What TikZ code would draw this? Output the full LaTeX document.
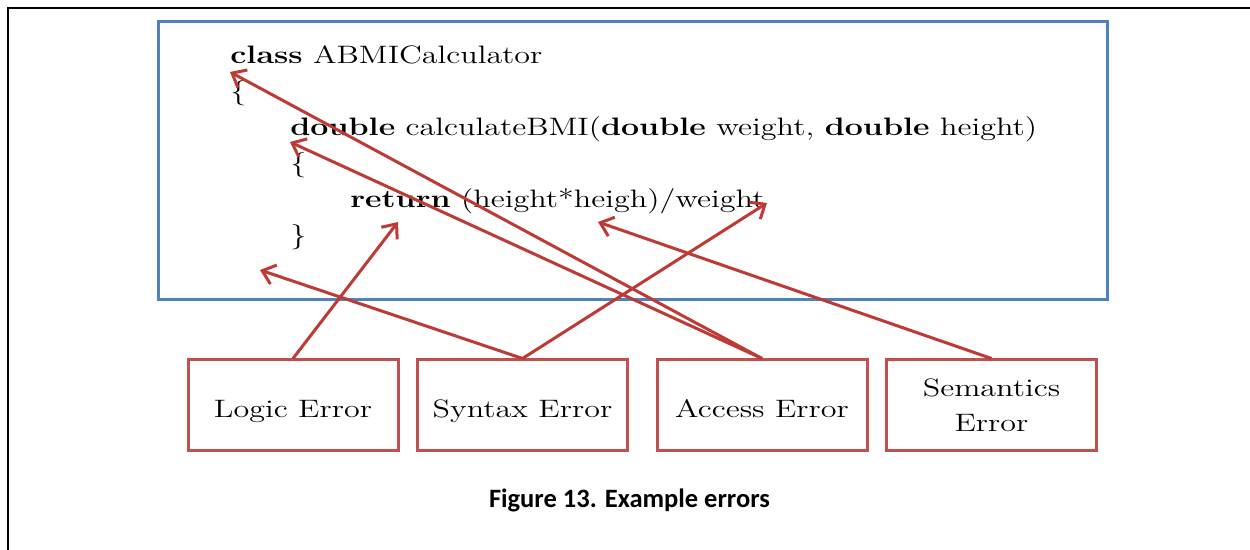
\documentclass[tikz,border=0pt]{standalone}
\usepackage{fontspec}
\usepackage{graphicx}
\newfontfamily\capfont{Carlito}
\usetikzlibrary{arrows.meta}
\definecolor{boxblue}{HTML}{4F81BD}
\definecolor{boxred}{HTML}{C0504D}
\definecolor{arrred}{HTML}{BE3A35}
\newcommand\sx[1]{\scalebox{1.275}[1]{#1}}
\begin{document}
\begin{tikzpicture}[x=0.5pt,y=-0.5pt,
  code/.style={anchor=base west, inner sep=0pt, font=\fontsize{12.6}{15}\selectfont},
  errbox/.style={draw=boxred, line width=1.5pt, fill=white, minimum width=105pt, minimum height=45.5pt, align=center, font=\fontsize{12.6}{17.5}\selectfont, inner sep=0pt},
  oneline/.style={errbox, text height=13pt, text depth=1pt},
  pointer/.style={draw=arrred, line width=1.5pt, -{Straight Barb[length=6pt,width=10pt]}}]
\useasboundingbox (0,0) rectangle (1250,550);
\fill[white] (0,0) rectangle (1250,550);
\draw[line width=1pt] (8,550) -- (8,8) -- (1250,8);
\draw[boxblue, line width=1.5pt] (158,22) rectangle (1107,300);
% code
\node[code] (l1) at (230,64) {\sx{\textbf{class} ABMICalculator}};
\node[code] (l2) at (230,100) {\sx{\{}};
\node[code] (l3) at (290,136) {\sx{\textbf{double} calculateBMI(\textbf{double} weight, \textbf{double} height)}};
\node[code] (l4) at (290,172) {\sx{\{}};
\node[code] (l5) at (350,208) {\sx{\textbf{return} (height*heigh)/weight}};
\node[code] (l6) at (290,244) {\sx{\}}};
% error boxes
\node[oneline] (logic) at (293,405.5) {\sx{Logic Error}};
\node[oneline] (syntax) at (522.5,405.5) {\sx{Syntax Error}};
\node[oneline] (access) at (762,405.5) {\sx{Access Error}};
\node[errbox] (sem) at (991.5,405.5) {\sx{Semantics}\\\sx{Error}};
% arrow tips
\coordinate (tLogic) at (398,222);
\coordinate (tSyn1) at (260,270);
\coordinate (tSyn2) at (767,203);
\coordinate (tAcc1) at (230,72);
\coordinate (tAcc2) at (290,142);
\coordinate (tSem) at (598,222);
\draw[pointer] (logic.north) -- (tLogic);
\draw[pointer] (syntax.north) -- (tSyn1);
\draw[pointer] (syntax.north) -- (tSyn2);
\draw[pointer] (access.north) -- (tAcc1);
\draw[pointer] (access.north) -- (tAcc2);
\draw[pointer] (sem.north) -- (tSem);
% caption
\node[font=\capfont\bfseries\fontsize{13.25}{16}\selectfont, anchor=base, inner sep=0pt] (cap) at (629.5,508) {Figure 13. Example errors};
\end{tikzpicture}
\end{document}
